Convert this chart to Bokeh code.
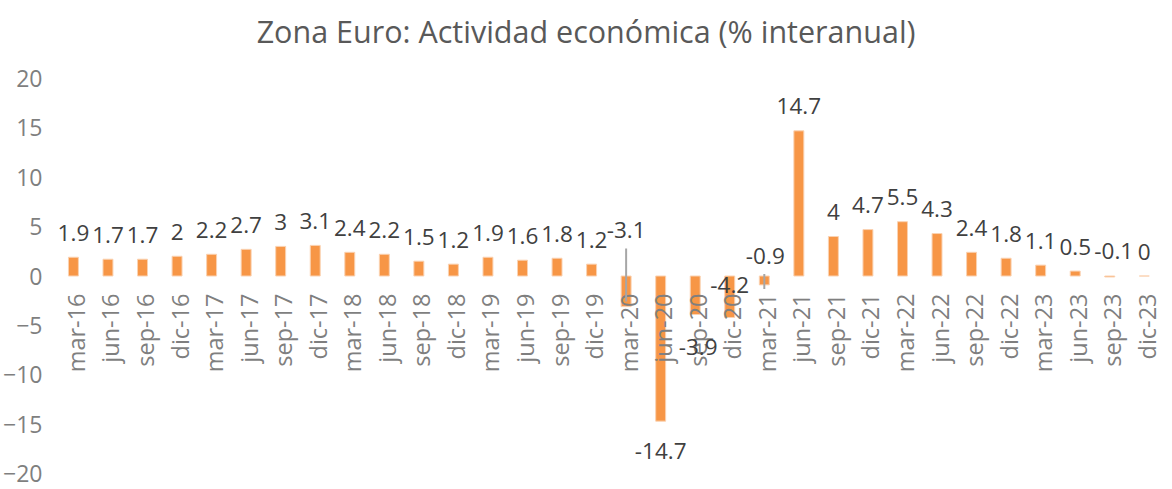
import math
from bokeh.plotting import figure
from bokeh.models import Range1d, FixedTicker, ColumnDataSource
from bokeh.core.properties import value
from bokeh.embed import file_html
from bokeh.resources import INLINE

# ---------------- data ----------------
categories = ["mar-16", "jun-16", "sep-16", "dic-16",
              "mar-17", "jun-17", "sep-17", "dic-17",
              "mar-18", "jun-18", "sep-18", "dic-18",
              "mar-19", "jun-19", "sep-19", "dic-19",
              "mar-20", "jun-20", "sep-20", "dic-20",
              "mar-21", "jun-21", "sep-21", "dic-21",
              "mar-22", "jun-22", "sep-22", "dic-22",
              "mar-23", "jun-23", "sep-23", "dic-23"]
values = [1.9, 1.7, 1.7, 2.0,
          2.2, 2.7, 3.0, 3.1,
          2.4, 2.2, 1.5, 1.2,
          1.9, 1.6, 1.8, 1.2,
          -3.1, -14.7, -3.9, -4.2,
          -0.9, 14.7, 4.0, 4.7,
          5.5, 4.3, 2.4, 1.8,
          1.1, 0.5, -0.1, 0.0]
y_ticks = [-20, -15, -10, -5, 0, 5, 10, 15, 20]
title_text = "Zona Euro: Actividad económica (% interanual)"

# ---------------- style / layout (pixels) ----------------
FONT = "Open Sans"
W, H = 1164, 489
ORIGIN_X = 8            # page x of the figure's left edge
BORDER_L = 52
FRAME_L = ORIGIN_X + BORDER_L
FRAME_W = W - BORDER_L
CAT_PX = 34.7           # pixel width of one category slot
FIRST_PAGE_X = 76.0     # page x of first category centre
TOP20_PX, BOT20_PX = 78.0, 473.0   # screen y of +20 / -20
PPU = (BOT20_PX - TOP20_PX) / 40.0  # pixels per y unit

X0 = -(FIRST_PAGE_X - FRAME_L) / CAT_PX
X1 = X0 + FRAME_W / CAT_PX
Y1 = 20 + TOP20_PX / PPU
Y0 = -20 - (H - BOT20_PX) / PPU


def px_x(dx):
    return dx / CAT_PX


def px_y(dy):
    return dy / PPU


def page_x(px):
    return X0 + (px - FRAME_L) / CAT_PX


# label centre overrides: (dx px, centre px above zero line; negative = below)
label_override = {
    "mar-20": (0, 46.5),
    "sep-20": (3, -71),
    "dic-20": (0, -9),
    "mar-21": (1, 20.5),
    "sep-23": (4, 25),
}
# leader lines: (px above zero, px below zero -> negative)
leaders = {"mar-20": (27.5, -25.5), "mar-21": (2, -13)}

p = figure(width=W, height=H, output_backend="svg", toolbar_location=None,
           x_axis_location=None, y_axis_location="left",
           x_range=Range1d(X0, X1), y_range=Range1d(Y0, Y1),
           min_border_left=BORDER_L, min_border_right=0,
           min_border_top=0, min_border_bottom=0)
p.outline_line_color = None
p.xgrid.visible = False
p.ygrid.visible = False
p.background_fill_color = "white"
p.border_fill_color = "white"

ax = p.yaxis[0]
ax.ticker = FixedTicker(ticks=y_ticks)
ax.axis_line_color = None
ax.major_tick_line_color = None
ax.minor_tick_line_color = None
ax.major_tick_out = 0
ax.major_tick_in = 0
ax.major_label_standoff = 15
ax.major_label_text_font = FONT
ax.major_label_text_font_size = "23px"
ax.major_label_text_color = "#7f7f7f"

# title (drawn as text so its position is exact)
p.text(x=[page_x(591)], y=[20 + px_y(TOP20_PX - 30)], text=[title_text],
       text_align="center", text_baseline="middle",
       text_font=value(FONT), text_font_size="30.5px", text_color="#595959")

xs = list(range(len(categories)))
src = ColumnDataSource(dict(x=xs, top=values, cat=categories,
                            cx=[x + px_x(2.5) for x in xs]))

p.vbar(x="x", top="top", bottom=0, width=px_x(10), source=src,
       fill_color="#F79646", line_color="#FAD2B2", line_width=1)

# category labels (rotated, just under the zero line)
p.text(x="cx", y=-px_y(17.5), text="cat", source=src, angle=math.pi / 2,
       text_align="right", text_baseline="middle",
       text_font=value(FONT), text_font_size="23.5px", text_color="#7f7f7f")

# data labels (centre positions)
lx, ly, lt = [], [], []
for i, (c, v) in enumerate(zip(categories, values)):
    lt.append(f"{v:g}")
    if c in label_override:
        dx, dy = label_override[c]
        lx.append(i + px_x(dx))
        ly.append(px_y(dy))
    else:
        lx.append(i)
        ly.append(v + px_y(24.5) if v >= 0 else v - px_y(30))
p.text(x=lx, y=ly, text=lt,
       text_align="center", text_baseline="middle",
       text_font=value(FONT), text_font_size="22.5px", text_color="#404040")

# leader lines
for c, (top_px, bot_px) in leaders.items():
    i = categories.index(c)
    p.segment(x0=[i], y0=[px_y(top_px)], x1=[i], y1=[px_y(bot_px)],
              line_color="#a6a6a6", line_width=2)

open("out.html", "w").write(file_html(p, INLINE))
